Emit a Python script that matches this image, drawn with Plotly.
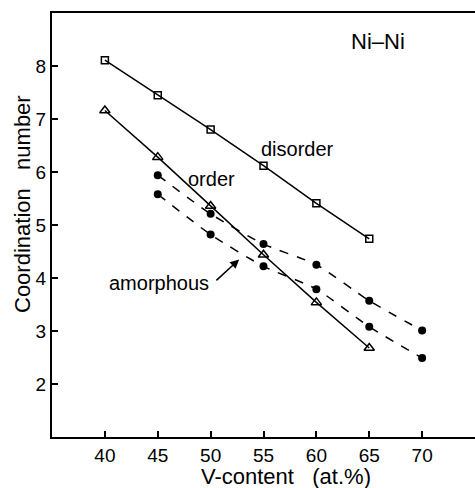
import plotly.graph_objects as go

x_dis = [40, 45, 50, 55, 60, 65]
y_dis = [8.11, 7.45, 6.80, 6.12, 5.41, 4.74]
x_ord = [40, 45, 50, 55, 60, 65]
y_ord = [7.16, 6.28, 5.36, 4.44, 3.54, 2.68]
x_am = [45, 50, 55, 60, 65, 70]
y_am_hi = [5.94, 5.21, 4.64, 4.25, 3.57, 3.01]
y_am_lo = [5.58, 4.82, 4.22, 3.79, 3.08, 2.49]
x_ticks = [40, 45, 50, 55, 60, 65, 70]
y_ticks = [2, 3, 4, 5, 6, 7, 8]

FONT = "Liberation Sans"
fig = go.Figure()
fig.add_trace(go.Scatter(x=x_dis, y=y_dis, mode="lines+markers",
    line=dict(color="black", width=1.5),
    marker=dict(symbol="square-open", size=7, color="black", line=dict(width=1.5))))
fig.add_trace(go.Scatter(x=x_ord, y=y_ord, mode="lines+markers",
    line=dict(color="black", width=1.5),
    marker=dict(symbol="triangle-up-open", size=9, color="black", line=dict(width=1.5))))
for yy in (y_am_hi, y_am_lo):
    fig.add_trace(go.Scatter(x=x_am, y=yy, mode="lines+markers",
        line=dict(color="black", width=1.5, dash="dash", shape="spline", smoothing=0.6),
        marker=dict(symbol="circle", size=8, color="black")))

ann = [
    dict(x=65.8, y=8.46, text="Ni–Ni", size=22),
    dict(x=58.2, y=6.44, text="disorder", size=20),
    dict(x=50.1, y=5.87, text="order", size=20),
    dict(x=45.1, y=3.91, text="amorphous", size=20),
]
for a in ann:
    fig.add_annotation(x=a["x"], y=a["y"], text=a["text"], showarrow=False,
                       font=dict(family=FONT, size=a["size"], color="black"))
fig.add_annotation(x=52.7, y=4.35, ax=50.4, ay=3.93, axref="x", ayref="y",
                   text="", showarrow=True, arrowhead=2, arrowsize=1.2,
                   arrowwidth=1.5, arrowcolor="black")
fig.add_annotation(x=(22 - 52) / 423, y=(437 - 204) / 424, xref="paper", yref="paper",
                   text="Coordination   number", showarrow=False, textangle=-90,
                   xanchor="center", yanchor="middle",
                   font=dict(family=FONT, size=22, color="black"))
fig.add_annotation(x=(286 - 52) / 423, y=(437 - 476) / 424, xref="paper", yref="paper",
                   text="V-content   (at.%)", showarrow=False,
                   xanchor="center", yanchor="middle",
                   font=dict(family=FONT, size=22, color="black"))

fig.update_layout(
    width=475, height=488, showlegend=False,
    margin=dict(l=52, r=0, t=13, b=51),
    paper_bgcolor="white", plot_bgcolor="white",
    font=dict(family=FONT, size=19, color="black"),
)
fig.update_xaxes(range=[35, 75], tickvals=x_ticks, ticks="inside", ticklen=6, tickwidth=1.5,
                 tickcolor="black", showline=True, linecolor="black", linewidth=2, mirror=True,
                 showgrid=False, zeroline=False, tickfont=dict(size=19))
fig.update_yaxes(range=[1, 9], tickvals=y_ticks, ticks="inside", ticklen=6, tickwidth=1.5,
                 tickcolor="black", showline=True, linecolor="black", linewidth=2,
                 showgrid=False, zeroline=False, tickfont=dict(size=19))
fig.write_html("out.html")
